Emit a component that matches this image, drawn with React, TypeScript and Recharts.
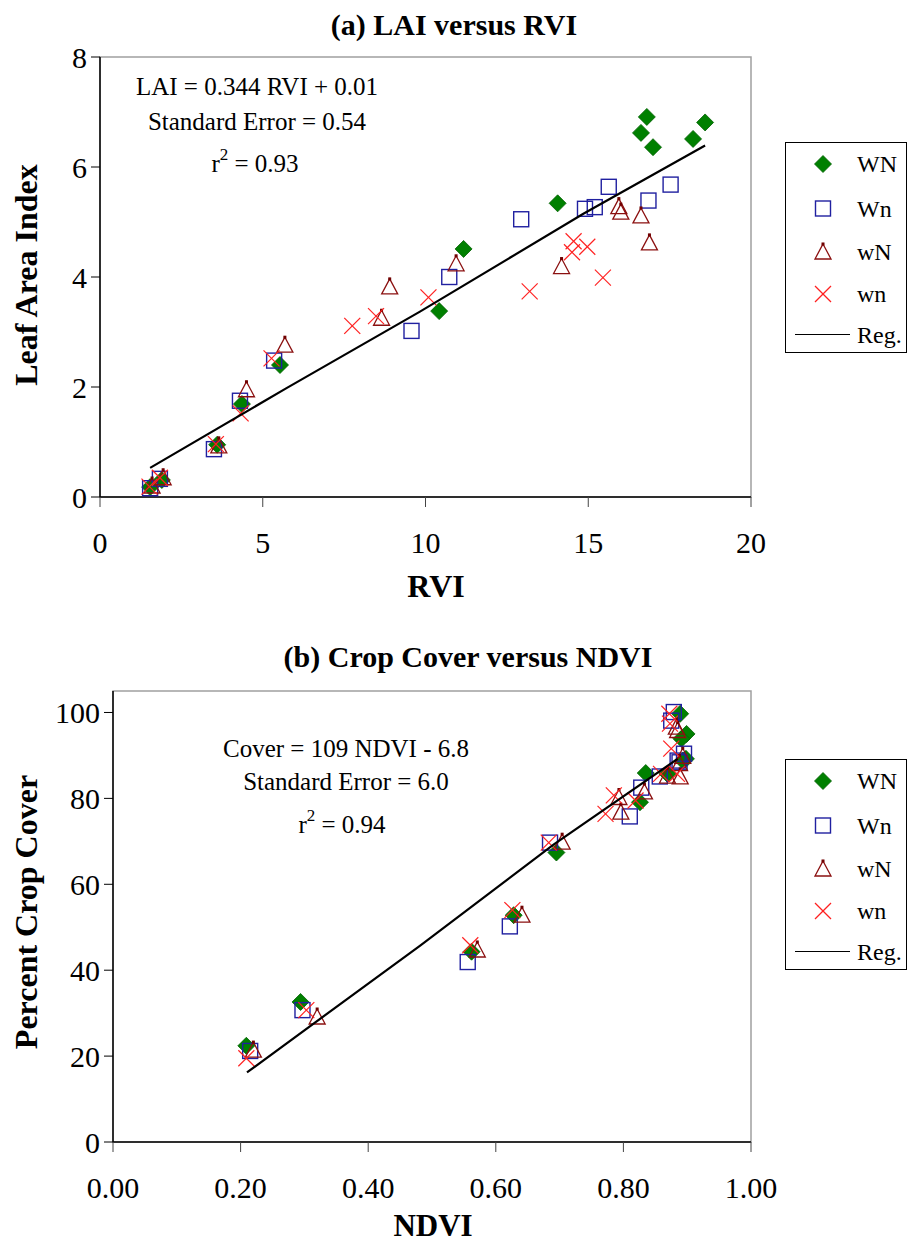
import React from 'react';
import { Legend, ReferenceArea, Scatter, ScatterChart, XAxis, YAxis } from 'recharts';

type Pt = [number, number];

// (a) LAI versus RVI — [RVI, LAI] pairs
const rviTicks = [0, 5, 10, 15, 20];
const laiTicks = [0, 2, 4, 6, 8];

const laiWN: Pt[] = [
  [1.54, 0.18], [1.9, 0.31], [3.6, 0.95], [4.36, 1.69], [5.53, 2.4], [10.42, 3.38], [11.17, 4.51],
  [14.06, 5.34], [16.62, 6.62], [16.8, 6.91], [16.99, 6.36], [18.22, 6.51], [18.59, 6.81],
];
const laiWn: Pt[] = [
  [1.54, 0.16], [1.84, 0.33], [3.5, 0.87], [4.3, 1.75], [5.35, 2.48], [9.57, 3.02], [10.73, 4.0],
  [12.94, 5.05], [14.9, 5.24], [15.2, 5.27], [15.63, 5.64], [16.85, 5.39], [17.53, 5.68],
];
const laiwN: Pt[] = [
  [1.6, 0.2], [1.94, 0.35], [3.65, 0.93], [4.5, 1.95], [5.68, 2.76], [8.65, 3.25], [8.9, 3.82],
  [10.94, 4.24], [14.18, 4.19], [15.94, 5.28], [16.0, 5.18], [16.62, 5.11], [16.88, 4.62],
];
const laiwn: Pt[] = [
  [1.52, 0.19], [1.84, 0.35], [3.56, 0.96], [4.32, 1.52], [5.27, 2.52], [7.75, 3.11], [8.48, 3.29],
  [10.09, 3.63], [13.2, 3.74], [14.55, 4.65], [14.5, 4.45], [14.97, 4.55], [15.45, 3.99],
];
const laiReg: Pt[] = [[1.54, 0.53], [5.73, 1.98], [9.83, 3.37], [14.85, 5.15], [18.59, 6.39]];

// (b) Crop Cover versus NDVI — [NDVI, cover %] pairs
const ndviTicks = [0, 0.2, 0.4, 0.6, 0.8, 1.0];
const coverTicks = [0, 20, 40, 60, 80, 100];

const covWN: Pt[] = [
  [0.209, 22.4], [0.294, 32.6], [0.562, 44.3], [0.628, 52.8], [0.695, 67.4], [0.826, 79.1], [0.835, 85.9],
  [0.869, 85.7], [0.889, 99.7], [0.899, 95], [0.891, 93.9], [0.898, 89.2], [0.893, 88.8],
];
const covWn: Pt[] = [
  [0.215, 21.2], [0.297, 30.7], [0.556, 41.9], [0.622, 50.2], [0.685, 69.7], [0.81, 75.8], [0.828, 82.5],
  [0.857, 85.1], [0.879, 100.1], [0.875, 98.1], [0.895, 90.4], [0.885, 88.8], [0.888, 88.4],
];
const covwN: Pt[] = [
  [0.22, 21.4], [0.32, 29.1], [0.571, 44.7], [0.641, 52.8], [0.704, 69.8], [0.793, 80.2], [0.796, 76.8],
  [0.833, 81.5], [0.869, 85.2], [0.889, 85], [0.883, 96.6], [0.885, 95.8], [0.893, 89.8], [0.888, 88.1],
];
const covwn: Pt[] = [
  [0.209, 19.5], [0.303, 30.7], [0.56, 45.8], [0.626, 54], [0.683, 69.7], [0.772, 76.4], [0.785, 80.7],
  [0.819, 79.5], [0.859, 85.7], [0.884, 85.7], [0.872, 99.7], [0.873, 97.4], [0.875, 91.6],
];
const covReg: Pt[] = [[0.21, 16.2], [0.482, 45.8], [0.691, 69.3], [0.885, 89.2]];

const legendNames = ['WN', 'Wn', 'wN', 'wn', 'Reg.'];

const FONT = '"Liberation Serif", "Times New Roman", serif';
const rows = (pts: Pt[]) => pts.map(([x, y]) => ({ x, y }));

// marker shapes, Excel-ish
function Diamond({ cx, cy }: any) {
  if (cx == null) return null;
  const r = 8.5;
  return <polygon points={`${cx},${cy - r} ${cx + r},${cy} ${cx},${cy + r} ${cx - r},${cy}`} fill="#008000" stroke="#006000" strokeWidth={0.8} />;
}
function Square({ cx, cy }: any) {
  if (cx == null) return null;
  return <rect x={cx - 7.5} y={cy - 7.5} width={15} height={15} fill="none" stroke="#2020a0" strokeWidth={1.4} />;
}
function Triangle({ cx, cy }: any) {
  if (cx == null) return null;
  return (
    <g>
      <polygon points={`${cx},${cy - 8} ${cx + 8},${cy + 7} ${cx - 8},${cy + 7}`} fill="none" stroke="#8b1010" strokeWidth={1.3} />
      <rect x={cx - 1.5} y={cy - 9.5} width={3} height={3} fill="#700000" />
    </g>
  );
}
function Cross({ cx, cy }: any) {
  if (cx == null) return null;
  const r = 8;
  return (
    <g stroke="#ff2020" strokeWidth={1.2}>
      <line x1={cx - r} y1={cy - r} x2={cx + r} y2={cy + r} />
      <line x1={cx - r} y1={cy + r} x2={cx + r} y2={cy - r} />
    </g>
  );
}
const NoDot = () => <g />;

function LegendBox() {
  const ys = [22, 66.5, 110, 152, 192.5];
  const marks = [Diamond, Square, Triangle, Cross];
  return (
    <svg width={123} height={212} style={{ display: 'block' }}>
      <rect x={0.5} y={0.5} width={121} height={210} fill="#fff" stroke="#000" strokeWidth={1} />
      {legendNames.map((name, i) => {
        const M = marks[i];
        return (
          <g key={name}>
            {M ? <M cx={38} cy={ys[i]} /> : <line x1={10} x2={65} y1={ys[i]} y2={ys[i]} stroke="#000" strokeWidth={1.2} />}
            <text x={72} y={ys[i] + 8} fontFamily={FONT} fontSize={24} fill="#000">{name}</text>
          </g>
        );
      })}
    </svg>
  );
}

const tickStyle = { fontSize: 30, fill: '#000', fontFamily: FONT };

interface PanelProps {
  height: number;
  margin: { top: number; right: number; bottom: number; left: number };
  xDomain: [number, number];
  yDomain: [number, number];
  xTicks: number[];
  yTicks: number[];
  xFmt?: (v: number) => string;
  series: Pt[][];
  reg: Pt[];
  legendTop: number;
}

function Panel({ height, margin, xDomain, yDomain, xTicks, yTicks, xFmt, series, reg, legendTop }: PanelProps) {
  const shapes = [Diamond, Square, Triangle, Cross];
  return (
    <ScatterChart width={911} height={height} margin={margin}>
      <ReferenceArea x1={xDomain[0]} x2={xDomain[1]} y1={yDomain[0]} y2={yDomain[1]} fill="none" stroke="#a0a0a0" strokeWidth={1.5} />
      <XAxis
        type="number"
        dataKey="x"
        domain={xDomain}
        ticks={xTicks}
        tickFormatter={xFmt}
        tick={tickStyle}
        tickSize={10}
        tickMargin={25}
        height={60}
        axisLine={{ stroke: '#000', strokeWidth: 1.5 }}
        tickLine={{ stroke: '#444' }}
        allowDataOverflow
      />
      <YAxis
        type="number"
        dataKey="y"
        domain={yDomain}
        ticks={yTicks}
        tick={tickStyle}
        tickSize={9}
        tickMargin={4}
        width={60}
        axisLine={{ stroke: '#000', strokeWidth: 1.5 }}
        tickLine={{ stroke: '#000' }}
        allowDataOverflow
      />
      {series.map((pts, i) => {
        const S = shapes[i];
        return <Scatter key={legendNames[i]} name={legendNames[i]} data={rows(pts)} shape={(p: any) => <S {...p} />} isAnimationActive={false} />;
      })}
      <Scatter name="Reg." data={rows(reg)} line={{ stroke: '#000', strokeWidth: 2.2 }} lineJointType="linear" shape={NoDot} isAnimationActive={false} />
      <Legend
        layout="vertical"
        align="center"
        verticalAlign="middle"
        wrapperStyle={{ left: 785, top: legendTop, width: 123, height: 212 }}
        content={() => <LegendBox />}
      />
    </ScatterChart>
  );
}

function Texts() {
  const t = { fontFamily: FONT, fill: '#000' } as const;
  return (
    <svg width={911} height={1244} style={{ position: 'absolute', left: 0, top: 0, pointerEvents: 'none' }}>
      <text {...t} x={454} y={35} fontSize={30} fontWeight="bold" textAnchor="middle">(a) LAI versus RVI</text>
      <text {...t} x={37} y={275} fontSize={32} fontWeight="bold" textAnchor="middle" transform="rotate(-90 37 275)">Leaf Area Index</text>
      <text {...t} x={436} y={597} fontSize={32} fontWeight="bold" textAnchor="middle">RVI</text>
      <g fontSize={25} textAnchor="middle">
        <text {...t} x={257} y={95}>LAI = 0.344 RVI + 0.01</text>
        <text {...t} x={257} y={130}>Standard Error = 0.54</text>
        <text {...t} x={255} y={172}>r<tspan dy={-12} fontSize={17}>2</tspan><tspan dy={12}> = 0.93</tspan></text>
      </g>

      <text {...t} x={468} y={667} fontSize={30} fontWeight="bold" textAnchor="middle">(b) Crop Cover versus NDVI</text>
      <text {...t} x={37} y={912} fontSize={32} fontWeight="bold" textAnchor="middle" transform="rotate(-90 37 912)">Percent Crop Cover</text>
      <text {...t} x={433} y={1236} fontSize={31} fontWeight="bold" textAnchor="middle">NDVI</text>
      <g fontSize={25} textAnchor="middle">
        <text {...t} x={346} y={757}>Cover = 109 NDVI - 6.8</text>
        <text {...t} x={346} y={790}>Standard Error = 6.0</text>
        <text {...t} x={342} y={833}>r<tspan dy={-12} fontSize={17}>2</tspan><tspan dy={12}> = 0.94</tspan></text>
      </g>
    </svg>
  );
}

export default function App() {
  return (
    <div style={{ position: 'absolute', left: 0, top: 0, width: 911, height: 1244, background: '#fff', fontFamily: FONT }}>
      <div style={{ position: 'absolute', left: 0, top: 0 }}>
        <Panel
          height={620}
          margin={{ top: 57, right: 160, bottom: 63, left: 40 }}
          xDomain={[0, 20]}
          yDomain={[0, 8]}
          xTicks={rviTicks}
          yTicks={laiTicks}
          series={[laiWN, laiWn, laiwN, laiwn]}
          reg={laiReg}
          legendTop={142}
        />
      </div>
      <div style={{ position: 'absolute', left: 0, top: 620 }}>
        <Panel
          height={624}
          margin={{ top: 71, right: 160, bottom: 42, left: 53 }}
          xDomain={[0, 1]}
          yDomain={[0, 105]}
          xTicks={ndviTicks}
          yTicks={coverTicks}
          xFmt={(v) => v.toFixed(2)}
          series={[covWN, covWn, covwN, covwn]}
          reg={covReg}
          legendTop={139}
        />
      </div>
      <Texts />
    </div>
  );
}
